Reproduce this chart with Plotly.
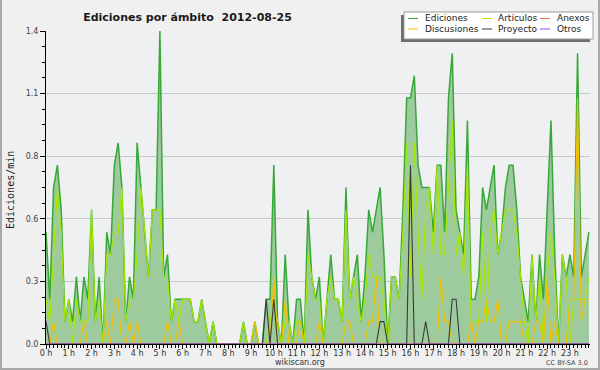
import plotly.graph_objects as go

# ---------------- data (10-minute slots, 2012-08-25) ----------------
TITLE = "Ediciones por ámbito  2012-08-25"
Y_TITLE = "Ediciones/min"
HOUR_LABELS = ["0 h", "1 h", "2 h", "3 h", "4 h", "5 h", "6 h", "7 h", "8 h", "9 h",
               "10 h", "11 h", "12 h", "13 h", "14 h", "15 h", "16 h", "17 h", "18 h",
               "19 h", "20 h", "21 h", "22 h", "23 h"]
Y_TICK_VALUES = [0.0, 0.28, 0.56, 0.84, 1.12, 1.4]
Y_TICK_LABELS = ["0.0", "0.3", "0.6", "0.8", "1.1", "1.4"]
SERIES_NAMES = ["Ediciones", "Artículos", "Anexos", "Discusiones", "Proyecto", "Otros"]
SERIES_COLORS = ["#38a838", "#a8e800", "#f07848", "#f2c000", "#3a3a3a", "#9a48ee"]

EDICIONES = [
    0.5, 0.2, 0.7, 0.8, 0.6, 0.1, 0.2, 0.1, 0.3, 0.1, 0.3, 0.2,
    0.6, 0.1, 0.3, 0.0, 0.5, 0.4, 0.8, 0.9, 0.7, 0.1, 0.3, 0.2,
    0.9, 0.7, 0.5, 0.3, 0.6, 0.6, 1.4, 0.3, 0.4, 0.1, 0.2, 0.2,
    0.2, 0.2, 0.2, 0.1, 0.1, 0.2, 0.1, 0.0, 0.1, 0.0, 0.0, 0.0,
    0.0, 0.0, 0.0, 0.0, 0.1, 0.0, 0.0, 0.1, 0.0, 0.0, 0.2, 0.2,
    0.8, 0.1, 0.0, 0.4, 0.1, 0.0, 0.2, 0.2, 0.0, 0.6, 0.3, 0.2,
    0.3, 0.0, 0.2, 0.4, 0.2, 0.2, 0.1, 0.7, 0.2, 0.3, 0.4, 0.1,
    0.3, 0.6, 0.5, 0.6, 0.7, 0.4, 0.0, 0.3, 0.3, 0.2, 0.6, 1.1,
    1.1, 1.2, 0.8, 0.7, 0.7, 0.7, 0.5, 0.8, 0.8, 0.5, 1.1, 1.3,
    0.6, 0.5, 0.4, 1.0, 0.2, 0.2, 0.3, 0.7, 0.6, 0.7, 0.8, 0.4,
    0.5, 0.7, 0.8, 0.8, 0.6, 0.3, 0.2, 0.1, 0.4, 0.1, 0.4, 0.2,
    0.6, 1.0, 0.4, 0.0, 0.4, 0.3, 0.4, 0.3, 1.3, 0.3, 0.4, 0.5,
]
ARTICULOS = [
    0.2, 0.1, 0.4, 0.7, 0.5, 0.1, 0.2, 0.0, 0.2, 0.1, 0.1, 0.1,
    0.6, 0.1, 0.2, 0.0, 0.4, 0.4, 0.5, 0.5, 0.7, 0.1, 0.2, 0.2,
    0.4, 0.7, 0.5, 0.3, 0.6, 0.6, 0.6, 0.3, 0.3, 0.1, 0.2, 0.1,
    0.2, 0.2, 0.2, 0.1, 0.1, 0.2, 0.1, 0.0, 0.1, 0.0, 0.0, 0.0,
    0.0, 0.0, 0.0, 0.0, 0.1, 0.0, 0.0, 0.1, 0.0, 0.0, 0.0, 0.1,
    0.2, 0.1, 0.0, 0.1, 0.1, 0.0, 0.1, 0.1, 0.0, 0.4, 0.3, 0.2,
    0.2, 0.0, 0.2, 0.3, 0.2, 0.2, 0.1, 0.6, 0.2, 0.3, 0.2, 0.1,
    0.2, 0.4, 0.3, 0.3, 0.3, 0.2, 0.0, 0.3, 0.3, 0.2, 0.5, 0.9,
    0.3, 0.9, 0.5, 0.2, 0.6, 0.7, 0.4, 0.8, 0.4, 0.4, 0.7, 1.0,
    0.4, 0.5, 0.3, 0.8, 0.1, 0.1, 0.1, 0.5, 0.1, 0.5, 0.6, 0.4,
    0.5, 0.6, 0.6, 0.6, 0.5, 0.3, 0.1, 0.0, 0.4, 0.1, 0.3, 0.0,
    0.3, 0.5, 0.3, 0.0, 0.4, 0.3, 0.0, 0.2, 0.2, 0.2, 0.2, 0.3,
]
ANEXOS = [
    0, 0, 0, 0, 0, 0, 0, 0, 0, 0, 0, 0,
    0, 0, 0, 0, 0, 0, 0, 0, 0, 0, 0, 0,
    0, 0, 0, 0, 0, 0, 0, 0, 0, 0, 0, 0,
    0, 0, 0, 0, 0, 0, 0, 0, 0, 0, 0, 0,
    0, 0, 0, 0, 0, 0, 0, 0, 0, 0, 0, 0,
    0, 0, 0, 0, 0, 0, 0, 0, 0, 0, 0, 0,
    0, 0, 0, 0, 0, 0, 0, 0, 0, 0, 0, 0,
    0, 0, 0, 0, 0, 0, 0, 0, 0, 0, 0, 0,
    0, 0, 0, 0, 0, 0, 0, 0, 0, 0, 0, 0,
    0, 0, 0, 0, 0, 0, 0, 0, 0, 0, 0, 0,
    0, 0, 0, 0, 0, 0, 0, 0, 0, 0, 0, 0,
    0, 0, 0, 0, 0, 0, 0, 0, 0, 0, 0, 0,
]
DISCUSIONES = [
    0, 0, 0.1, 0, 0, 0, 0, 0, 0, 0, 0.1, 0,
    0, 0, 0, 0, 0.1, 0, 0.2, 0.2, 0, 0, 0.1, 0,
    0.1, 0, 0, 0, 0, 0, 0, 0, 0.1, 0, 0, 0.1,
    0, 0, 0, 0, 0, 0, 0, 0, 0, 0, 0, 0,
    0, 0, 0, 0, 0, 0, 0, 0.1, 0, 0, 0, 0,
    0.3, 0, 0, 0.2, 0, 0, 0, 0.1, 0, 0, 0, 0,
    0.1, 0, 0, 0, 0, 0, 0, 0.1, 0.1, 0, 0, 0,
    0, 0.1, 0.1, 0.3, 0, 0, 0, 0, 0, 0, 0, 0,
    0, 0, 0, 0, 0, 0, 0, 0, 0.3, 0.1, 0.1, 0,
    0, 0, 0, 0, 0.1, 0, 0.1, 0.1, 0.2, 0.1, 0.1, 0.2,
    0, 0, 0.1, 0.1, 0.1, 0.1, 0, 0, 0, 0.1, 0.1, 0,
    0.3, 0, 0.1, 0, 0, 0, 0.2, 0.2, 1.1, 0.1, 0.2, 0.2,
]
PROYECTO = [
    0.1, 0, 0, 0, 0, 0, 0, 0, 0, 0, 0, 0,
    0, 0, 0, 0, 0, 0, 0, 0, 0, 0, 0, 0,
    0, 0, 0, 0, 0, 0, 0, 0, 0, 0, 0, 0,
    0, 0, 0, 0, 0, 0, 0, 0, 0, 0, 0, 0,
    0, 0, 0, 0, 0, 0, 0, 0, 0, 0, 0.2, 0,
    0.2, 0, 0, 0, 0, 0, 0, 0, 0, 0, 0, 0,
    0, 0, 0, 0, 0, 0, 0, 0, 0, 0, 0, 0,
    0, 0, 0, 0, 0.1, 0.1, 0, 0, 0, 0, 0, 0,
    0.8, 0, 0, 0, 0.1, 0, 0, 0, 0, 0, 0, 0.2,
    0.2, 0, 0, 0, 0, 0, 0, 0, 0, 0, 0, 0,
    0, 0, 0, 0, 0, 0, 0, 0, 0, 0, 0, 0,
    0, 0, 0, 0, 0, 0, 0, 0, 0, 0, 0, 0,
]
OTROS = [
    0, 0, 0, 0, 0, 0, 0, 0, 0, 0, 0, 0,
    0, 0, 0, 0, 0, 0, 0, 0, 0, 0, 0, 0,
    0, 0, 0, 0, 0, 0, 0, 0, 0, 0, 0, 0,
    0, 0, 0, 0, 0, 0, 0, 0, 0, 0, 0, 0,
    0, 0, 0, 0, 0, 0, 0, 0, 0, 0, 0, 0,
    0, 0, 0, 0, 0, 0, 0, 0, 0, 0, 0, 0,
    0, 0, 0, 0, 0, 0, 0, 0, 0, 0, 0, 0,
    0, 0, 0, 0, 0, 0, 0, 0, 0, 0, 0, 0,
    0, 0, 0, 0, 0, 0, 0, 0, 0, 0, 0, 0,
    0, 0, 0, 0, 0, 0, 0, 0, 0, 0, 0, 0,
    0, 0, 0, 0, 0, 0, 0, 0, 0, 0, 0, 0,
    0, 0, 0, 0, 0, 0, 0, 0, 0, 0, 0, 0,
]

# time of each slot in hours
HOURS = [i / 6 for i in range(len(EDICIONES))]

# ---------------- layout geometry ----------------
W, H = 600, 370
L, R, T, B = 46, 10, 31, 26
PW, PH = W - L - R, H - T - B


def px(x):
    return (x - L) / PW


def py(y):
    return (H - B - y) / PH


fig = go.Figure()

series = [EDICIONES, ARTICULOS, ANEXOS, DISCUSIONES, PROYECTO, OTROS]
for name, vals, col in zip(SERIES_NAMES, series, SERIES_COLORS):
    if name == "Ediciones":
        fig.add_trace(go.Scatter(x=HOURS, y=vals, name=name, mode="lines",
                                 line=dict(color=col, width=1.5),
                                 fill="tozeroy", fillcolor="#9ecb9e",
                                 showlegend=False))
    else:
        fig.add_trace(go.Scatter(x=HOURS, y=vals, name=name, mode="lines",
                                 line=dict(color=col, width=1.1),
                                 showlegend=False))

FONT = "DejaVu Sans"
shapes = []
annotations = []

# outer frame (left, bottom, right)
frame = dict(type="line", xref="paper", yref="paper",
             line=dict(color="#a8a8a8", width=2))
shapes.append(dict(frame, x0=px(1), x1=px(1), y0=py(0), y1=py(369)))
shapes.append(dict(frame, x0=px(0), x1=px(600), y0=py(369), y1=py(369)))
shapes.append(dict(frame, x0=px(599), x1=px(599), y0=py(0), y1=py(369)))

# legend box with shadow
shapes.append(dict(type="rect", xref="paper", yref="paper",
                   x0=px(401), x1=px(590), y0=py(42), y1=py(15),
                   fillcolor="#6e6e6e", line=dict(width=0)))
shapes.append(dict(type="rect", xref="paper", yref="paper",
                   x0=px(404), x1=px(593), y0=py(39), y1=py(12),
                   fillcolor="#ffffff", line=dict(color="#9a9a9a", width=1)))

leg_cols = [(408, 423), (482, 496), (540, 555)]
leg_rows = [18.5, 29]
for k, (name, col) in enumerate(zip(SERIES_NAMES, SERIES_COLORS)):
    r, c = divmod(k, 3)
    lx, tx = leg_cols[c]
    yy = leg_rows[r]
    shapes.append(dict(type="line", xref="paper", yref="paper",
                       x0=px(lx), x1=px(lx + 10), y0=py(yy), y1=py(yy),
                       line=dict(color=col, width=1)))
    annotations.append(dict(text=name, xref="paper", yref="paper",
                            x=px(tx), y=py(yy), xanchor="left", yanchor="middle",
                            showarrow=False,
                            font=dict(family=FONT, size=9, color="#222")))

# y-axis title
annotations.append(dict(text=Y_TITLE, xref="paper", yref="paper",
                        x=px(10), y=py(190), textangle=-90,
                        xanchor="center", yanchor="middle", showarrow=False,
                        font=dict(family="DejaVu Sans Mono", size=10, color="#222")))
# footer
annotations.append(dict(text="wikiscan.org", xref="paper", yref="paper",
                        x=px(300), y=py(362), xanchor="center", yanchor="middle",
                        showarrow=False, font=dict(family=FONT, size=8, color="#333")))
annotations.append(dict(text="CC BY-SA 3.0", xref="paper", yref="paper",
                        x=px(590), y=py(363), xanchor="right", yanchor="middle",
                        showarrow=False, font=dict(family=FONT, size=6.5, color="#444")))

fig.update_layout(
    width=W, height=H,
    margin=dict(l=L, r=R, t=T, b=B, pad=0),
    paper_bgcolor="#f0f0f0",
    plot_bgcolor="#eef0f2",
    title=dict(text=TITLE, x=187.5 / W, xanchor="center",
               y=1 - 17 / H, yanchor="middle",
               font=dict(family=FONT, size=11, color="#1a1a1a", weight="bold")),
    shapes=shapes,
    annotations=annotations,
    showlegend=False,
    xaxis=dict(range=[0, 23.88], tickmode="array",
               tickvals=list(range(24)), ticktext=HOUR_LABELS,
               ticks="outside", ticklen=4, tickcolor="#000", tickwidth=1,
               ticklabelstandoff=-3,
               showline=True, linecolor="#000", linewidth=1,
               showgrid=False, zeroline=False, layer="above traces",
               tickfont=dict(family=FONT, size=8, color="#333"),
               minor=dict(tick0=0, dtick=1 / 6, ticks="outside", ticklen=3,
                          tickcolor="#000", showgrid=False)),
    yaxis=dict(range=[0, 1.4], tickmode="array",
               tickvals=Y_TICK_VALUES, ticktext=Y_TICK_LABELS,
               ticks="outside", ticklen=5, tickcolor="#000", tickwidth=1,
               showline=True, linecolor="#000", linewidth=1,
               showgrid=True, gridcolor="#c8c8c8", gridwidth=1,
               zeroline=False, layer="above traces",
               tickfont=dict(family=FONT, size=8, color="#444"),
               minor=dict(tick0=0, dtick=0.07, ticks="outside", ticklen=3,
                          tickcolor="#000", showgrid=False)),
)

fig.write_html("out.html",
               config={"displayModeBar": False},
               post_script="document.body.style.margin='0';"
                           "document.body.style.overflow='hidden';")
